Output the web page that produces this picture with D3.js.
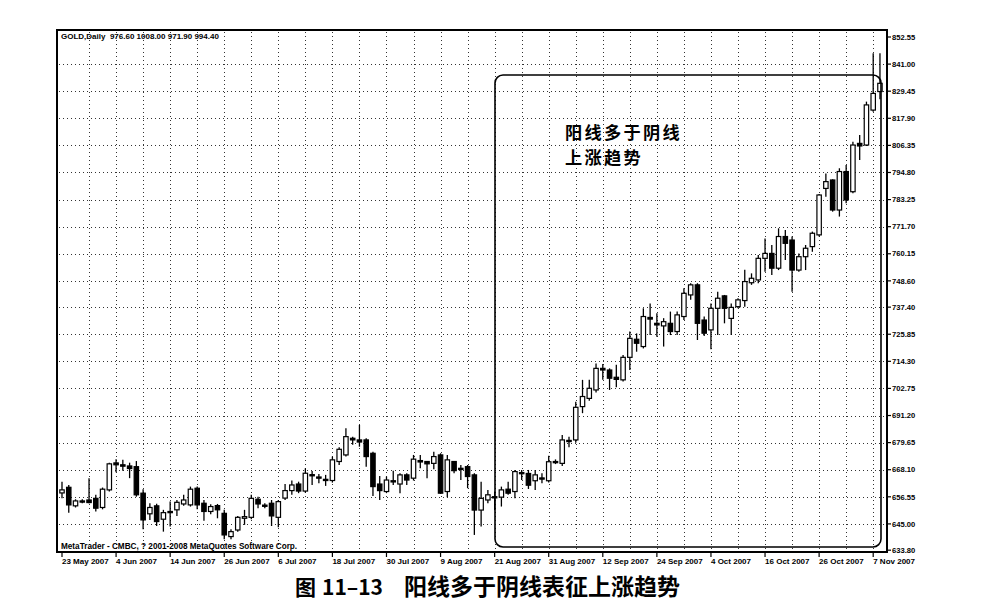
<!DOCTYPE html>
<html lang="zh">
<head>
    <meta charset="UTF-8">
    <title>GOLD Daily - 阳线多于阴线表征上涨趋势</title>
    <script src="https://cdnjs.cloudflare.com/ajax/libs/d3/7.8.5/d3.min.js"></script>
    <style>
        body {
            margin: 0;
            background-color: #fff;
        }
        #chart svg {
            display: block;
        }
        .small {
            font-family: 'Liberation Sans', Arial, sans-serif;
            font-size: 8px;
            font-weight: bold;
            fill: #000;
            white-space: pre;
        }
        .cjk {
            font-family: 'Noto Sans CJK SC', sans-serif;
            font-weight: bold;
            fill: #000;
        }
    </style>
</head>
<body>
    <div id="chart"></div>

    <script>
        // daily OHLC, bar 0 = 23 May 2007
        const opens = [
            658.2, 660.6, 652.7, 654.8, 655.2, 655.9, 652.0, 659.5, 671.0, 670.2,
            669.7, 669.4, 658.1, 649.3, 652.7, 647.0, 650.3, 651.0, 653.5, 653.1,
            660.2, 653.8, 650.3, 652.8, 649.5, 639.6, 642.4, 647.4, 647.8, 655.5,
            653.0, 653.8, 647.8, 656.0, 659.2, 662.0, 659.0, 666.0, 665.0, 664.0,
            663.5, 671.6, 674.4, 681.5, 680.8, 680.8, 675.1, 662.0, 658.8, 663.4,
            662.0, 665.9, 664.5, 672.0, 671.6, 670.8, 674.4, 658.8, 671.6, 668.7,
            669.4, 665.9, 650.9, 655.2, 656.6, 656.4, 659.8, 658.8, 666.9, 666.5,
            663.4, 664.6, 663.4, 671.6, 670.8, 680.6, 680.8, 695.0, 698.5, 702.1,
            711.3, 710.6, 707.5, 706.4, 716.0, 723.7, 720.6, 733.0, 730.5, 729.4,
            730.5, 727.0, 733.4, 742.6, 746.9, 731.9, 727.7, 736.9, 742.2, 732.6,
            737.6, 740.2, 747.8, 749.0, 758.2, 760.3, 754.0, 767.5, 766.0, 753.2,
            758.9, 763.2, 768.2, 788.0, 791.6, 778.8, 795.2, 786.6, 807.2, 806.5,
            821.4, 829.3
        ];
        const highs = [
            663.0, 661.6, 655.5, 655.5, 664.5, 657.4, 660.5, 671.1, 672.6, 672.3,
            671.1, 671.8, 659.8, 653.8, 653.6, 651.0, 654.5, 655.2, 657.4, 660.9,
            660.9, 655.2, 653.4, 653.5, 651.0, 642.7, 648.4, 651.0, 657.4, 656.6,
            653.8, 655.2, 655.2, 662.0, 663.5, 663.0, 668.7, 667.6, 666.3, 665.9,
            673.7, 677.7, 685.8, 682.2, 687.2, 681.5, 675.8, 665.4, 665.2, 667.7,
            666.6, 666.6, 674.4, 674.4, 671.8, 675.8, 675.1, 674.4, 671.8, 670.1,
            670.1, 666.6, 663.0, 659.5, 658.8, 660.9, 663.0, 668.0, 668.0, 668.0,
            668.0, 666.6, 674.0, 672.5, 682.9, 682.2, 697.1, 706.4, 706.4, 713.4,
            713.2, 711.3, 712.8, 717.0, 727.0, 726.2, 736.9, 739.0, 734.8, 732.7,
            735.5, 735.5, 745.4, 747.6, 747.6, 733.4, 739.0, 744.0, 742.6, 739.0,
            741.2, 753.3, 751.8, 759.6, 766.7, 763.9, 771.0, 770.3, 767.5, 760.3,
            763.9, 769.6, 785.6, 794.4, 791.9, 796.6, 798.0, 807.9, 810.8, 825.0,
            845.6, 845.6
        ];
        const lows = [
            655.9, 649.8, 652.0, 653.8, 653.8, 650.3, 651.2, 658.8, 667.0, 667.7,
            664.5, 656.6, 642.7, 646.7, 644.1, 641.7, 643.9, 648.4, 652.7, 652.4,
            651.2, 646.3, 649.1, 647.4, 638.5, 638.5, 641.7, 644.6, 647.0, 651.7,
            651.7, 644.1, 643.6, 655.2, 657.4, 658.1, 658.3, 661.6, 662.3, 661.2,
            662.6, 670.1, 673.7, 678.7, 677.9, 669.4, 656.9, 655.2, 658.1, 661.6,
            658.1, 661.6, 663.5, 668.7, 664.5, 668.3, 657.8, 656.4, 666.6, 663.7,
            660.2, 640.3, 643.9, 653.8, 650.9, 652.4, 657.4, 655.9, 663.7, 659.9,
            659.5, 662.3, 662.6, 670.5, 669.7, 677.7, 679.6, 692.2, 697.5, 701.0,
            706.4, 702.1, 703.2, 705.7, 710.6, 718.4, 719.8, 725.5, 724.8, 720.6,
            725.5, 725.5, 731.9, 740.5, 723.4, 725.1, 719.4, 725.5, 730.5, 725.5,
            736.9, 737.6, 746.9, 747.6, 752.5, 751.1, 753.2, 757.5, 744.0, 752.5,
            753.2, 761.0, 767.5, 784.5, 778.1, 776.0, 781.7, 785.9, 800.1, 806.1,
            820.7, 826.0
        ];
        const closes = [
            659.5, 653.1, 654.8, 654.3, 654.1, 651.7, 659.8, 670.6, 670.2, 669.6,
            668.6, 657.4, 646.7, 652.0, 646.0, 649.8, 649.8, 654.2, 655.2, 659.8,
            653.1, 650.3, 652.4, 651.0, 640.3, 641.7, 647.8, 648.1, 655.9, 653.5,
            652.7, 648.4, 654.5, 659.2, 661.6, 659.0, 666.6, 665.7, 664.6, 663.5,
            672.3, 676.8, 682.2, 680.8, 679.9, 673.7, 660.9, 659.2, 663.7, 662.9,
            665.9, 663.7, 672.6, 671.4, 670.6, 673.7, 658.1, 672.3, 667.7, 668.3,
            665.2, 650.9, 655.9, 657.4, 656.2, 659.5, 658.1, 667.3, 666.4, 661.5,
            665.9, 664.1, 671.5, 671.4, 680.8, 680.3, 694.7, 699.3, 702.8, 711.3,
            710.6, 707.1, 706.6, 716.0, 724.1, 722.0, 733.4, 732.3, 729.8, 731.2,
            727.0, 734.1, 743.3, 746.9, 730.5, 726.3, 736.9, 741.2, 736.9, 737.3,
            740.5, 748.3, 749.7, 758.2, 760.3, 754.0, 767.5, 764.6, 753.2, 758.9,
            762.5, 768.9, 785.2, 790.9, 778.8, 795.2, 783.1, 806.5, 806.1, 823.6,
            828.5, 832.8
        ];

        const priceTicks = [852.55, 841.00, 829.45, 817.90, 806.35, 794.80, 783.25, 771.70, 760.15, 748.60,
            737.40, 725.85, 714.30, 702.75, 691.20, 679.65, 668.10, 656.55, 645.00, 633.80];
        const dateIndex = [0, 8, 16, 24, 32, 40, 48, 56, 64, 72, 80, 88, 96, 104, 112, 120];
        const dateLabels = ["23 May 2007", "4 Jun 2007", "14 Jun 2007", "26 Jun 2007", "6 Jul 2007",
            "18 Jul 2007", "30 Jul 2007", "9 Aug 2007", "21 Aug 2007", "31 Aug 2007", "12 Sep 2007",
            "24 Sep 2007", "4 Oct 2007", "16 Oct 2007", "26 Oct 2007", "7 Nov 2007"];

        const headerText = "GOLD,Daily  976.60 1008.00 971.90 994.40";
        const footerText = "MetaTrader - CMBC, ? 2001-2008 MetaQuotes Software Corp.";
        const noteLines = ["阳线多于阴线", "上涨趋势"];
        const figNumber = ["图", "11–13"];
        const figTitle = "阳线多于阴线表征上涨趋势";

        const W = 981, H = 611;
        const plot = { left: 57, right: 887, top: 30, bottom: 552 };

        const bars = opens.map((o, i) => ({ i, o, h: highs[i], l: lows[i], c: closes[i] }));

        const x = d3.scaleLinear().domain([0, 120]).range([62, 873.2]);
        const y = d3.scaleLinear().domain([633.45, 852.55]).range([551, 37]);

        const svg = d3.select("#chart")
            .append("svg")
            .attr("width", W)
            .attr("height", H);

        // grid
        const grid = svg.append("g")
            .attr("stroke", "#333")
            .attr("stroke-width", 1)
            .attr("stroke-dasharray", "1,3");

        grid.selectAll(".hgrid")
            .data(priceTicks.slice(1, -1))
            .join("line")
            .attr("x1", plot.left + 2)
            .attr("x2", plot.right - 2)
            .attr("y1", d => Math.round(y(d)) + 0.5)
            .attr("y2", d => Math.round(y(d)) + 0.5);

        grid.selectAll(".vgrid")
            .data(d3.range(4, 121, 4))
            .join("line")
            .attr("x1", d => Math.round(x(d)) + 0.5)
            .attr("x2", d => Math.round(x(d)) + 0.5)
            .attr("y1", plot.top + 2)
            .attr("y2", plot.bottom - 2);

        // candles
        const bodyW = 4.4;
        const candles = svg.append("g").selectAll("g")
            .data(bars)
            .join("g");

        candles.append("line")
            .attr("x1", d => x(d.i))
            .attr("x2", d => x(d.i))
            .attr("y1", d => y(d.h))
            .attr("y2", d => y(d.l))
            .attr("stroke", "#000")
            .attr("stroke-width", 1.3);

        candles.append("rect")
            .attr("x", d => x(d.i) - bodyW / 2)
            .attr("width", bodyW)
            .attr("y", d => y(Math.max(d.o, d.c)))
            .attr("height", d => Math.max(1.2, Math.abs(y(d.o) - y(d.c))))
            .attr("fill", d => d.c >= d.o ? "#fff" : "#000")
            .attr("stroke", "#000")
            .attr("stroke-width", 1.2);

        // frame
        svg.append("rect")
            .attr("x", plot.left)
            .attr("y", plot.top)
            .attr("width", plot.right - plot.left)
            .attr("height", plot.bottom - plot.top)
            .attr("fill", "none")
            .attr("stroke", "#000")
            .attr("stroke-width", 2);

        // price axis on the right
        const yAxis = svg.append("g");
        yAxis.selectAll("line")
            .data(priceTicks)
            .join("line")
            .attr("x1", plot.right)
            .attr("x2", plot.right + 4)
            .attr("y1", d => y(d))
            .attr("y2", d => y(d))
            .attr("stroke", "#000")
            .attr("stroke-width", 1.2);
        yAxis.selectAll("text")
            .data(priceTicks)
            .join("text")
            .attr("class", "small")
            .attr("x", plot.right + 5)
            .attr("y", d => y(d) + 2.7)
            .style("font-size", "7.6px")
            .text(d => d.toFixed(2));

        // date axis
        const xAxis = svg.append("g");
        xAxis.selectAll("line")
            .data(dateIndex)
            .join("line")
            .attr("x1", d => x(d))
            .attr("x2", d => x(d))
            .attr("y1", plot.bottom)
            .attr("y2", plot.bottom + 5)
            .attr("stroke", "#000")
            .attr("stroke-width", 1.2);
        xAxis.selectAll("text")
            .data(dateIndex)
            .join("text")
            .attr("class", "small")
            .attr("x", d => x(d))
            .attr("y", plot.bottom + 12)
            .text((d, k) => dateLabels[k]);

        svg.append("text")
            .attr("class", "small")
            .attr("x", 61)
            .attr("y", 39)
            .text(headerText);

        svg.append("text")
            .attr("class", "small")
            .attr("x", 61)
            .attr("y", 549)
            .style("font-size", "8.2px")
            .text(footerText);

        // annotation box
        svg.append("rect")
            .attr("x", 495)
            .attr("y", 75)
            .attr("width", 881 - 495)
            .attr("height", 547 - 75)
            .attr("rx", 8)
            .attr("fill", "none")
            .attr("stroke", "#000")
            .attr("stroke-width", 1.6);

        svg.append("g").selectAll("text")
            .data(noteLines)
            .join("text")
            .attr("class", "cjk")
            .attr("x", 565)
            .attr("y", (d, k) => 138.5 + k * 25)
            .style("font-size", "17.2px")
            .style("letter-spacing", "2.3px")
            .text(d => d);

        // caption
        svg.append("text")
            .attr("class", "cjk")
            .attr("x", 295)
            .attr("y", 595)
            .style("font-size", "21px")
            .text(figNumber[0]);
        svg.append("text")
            .attr("class", "cjk")
            .attr("x", 322)
            .attr("y", 595)
            .style("font-size", "21px")
            .text(figNumber[1]);
        svg.append("text")
            .attr("class", "cjk")
            .attr("x", 404)
            .attr("y", 595)
            .style("font-size", "23px")
            .text(figTitle);
    </script>
</body>
</html>
